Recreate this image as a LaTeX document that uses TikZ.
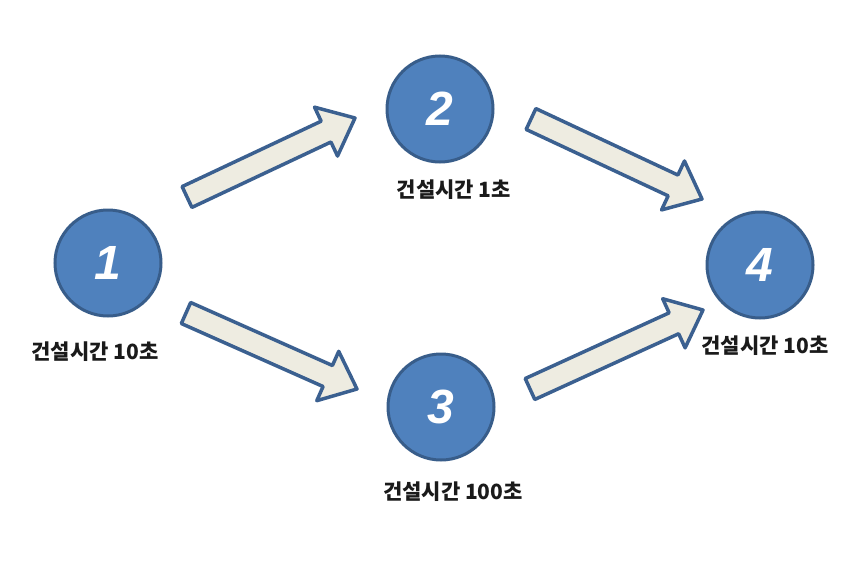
\documentclass[tikz,border=0pt]{standalone}
\usepackage{fontspec}
\usetikzlibrary{calc}
\newfontfamily\kr{Noto Sans CJK KR}
\newfontfamily\numfont{Liberation Sans}
\definecolor{cfill}{HTML}{4F81BD}
\definecolor{cline}{HTML}{385D8A}
\definecolor{afill}{HTML}{EEECE1}
\definecolor{aline}{HTML}{3B6090}
\definecolor{txt}{HTML}{1A1A1A}
\tikzset{
  stage/.style={circle, fill=cfill, draw=cline, line width=3pt, minimum size=106pt, inner sep=0pt,
    text=white, font=\numfont\bfseries\itshape\fontsize{48}{48}\selectfont},
  stagelabel/.style={text=txt, font=\kr\bfseries\fontsize{21}{24}\selectfont, inner sep=0pt},
  barrow/.style={fill=afill, draw=aline, line width=3.5pt, line join=round}
}
\newcommand{\blockarr}[2]{%
  \path coordinate (#1#2c) at ($(#2)!32pt!(#1)$);
  \draw[barrow] ($(#1)!11.5pt!90:(#2)$) -- ($(#1#2c)!11.5pt!90:(#2)$) -- ($(#1#2c)!27pt!90:(#2)$)
     -- (#2) -- ($(#1#2c)!27pt!-90:(#2)$) -- ($(#1#2c)!11.5pt!-90:(#2)$) -- ($(#1)!11.5pt!-90:(#2)$) -- cycle;
}
\begin{document}
\begin{tikzpicture}[x=1pt,y=-1pt]
\useasboundingbox (0,0) rectangle (867,562);
\node[stage] (n1) at (108,263) {1};
\node[stage] (n2) at (440,109) {2};
\node[stage] (n3) at (441,407) {3};
\node[stage] (n4) at (760,265) {4};
\node[stagelabel] (l1) at (95,352) {건설시간 10초};
\node[stagelabel] (l2) at (454,190) {건설시간 1초};
\node[stagelabel] (l3) at (453,492) {건설시간 100초};
\node[stagelabel] (l4) at (765,346) {건설시간 10초};
\coordinate (t12) at (187,197);
\coordinate (h12) at (355,118);
\coordinate (t24) at (531,119);
\coordinate (h24) at (702,199);
\coordinate (t13) at (186,313);
\coordinate (h13) at (357,389);
\coordinate (t34) at (530,389);
\coordinate (h34) at (703,310);
\blockarr{t12}{h12}
\blockarr{t24}{h24}
\blockarr{t13}{h13}
\blockarr{t34}{h34}
\end{tikzpicture}
\end{document}
